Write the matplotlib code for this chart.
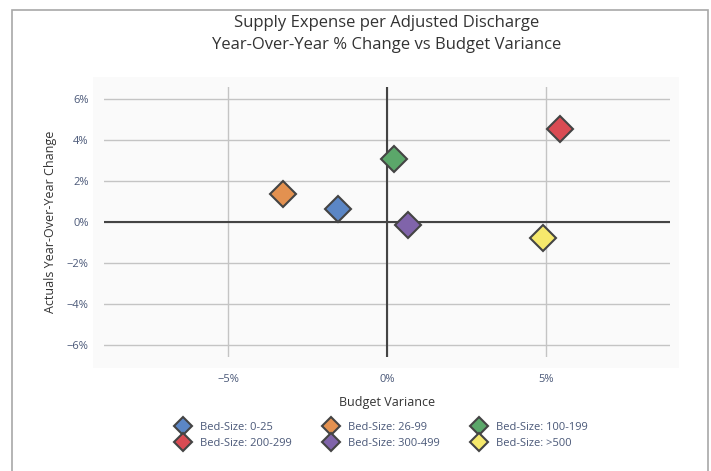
import matplotlib.pyplot as plt
from matplotlib.patches import Rectangle
from matplotlib.ticker import FuncFormatter

plt.rcParams['font.family'] = ['Open Sans', 'DejaVu Sans']

#%% Daten

groups = ['Bed-Size: 0-25', 'Bed-Size: 26-99', 'Bed-Size: 100-199',
          'Bed-Size: 200-299', 'Bed-Size: 300-499', 'Bed-Size: >500']
budget_var = [-1.54, -3.26, 0.21, 5.43, 0.65, 4.91]
yoy_change = [0.62, 1.38, 3.09, 4.57, -0.15, -0.76]
colors = ['#5b86c5', '#e39150', '#5ba76a', '#d94b53', '#8064aa', '#f6e96c']

x_ticks = [-5, 0, 5]
y_ticks = [-6, -4, -2, 0, 2, 4, 6]

#%% Plot

W, H = 711, 471
fig = plt.figure(figsize=(W/100, H/100), dpi=100)

# Rahmen um die ganze Grafik
fig.patches.append(Rectangle((12/W, -0.01), (708-12)/W, (H-10)/H + 0.01,
                             transform=fig.transFigure, fill=False,
                             edgecolor='#a8a8a8', lw=1.2, zorder=-2))
# Hintergrund der Plotflaeche
fig.patches.append(Rectangle((93/W, 1-368/H), (679-93)/W, (368-77)/H,
                             transform=fig.transFigure, facecolor='#fafafa',
                             edgecolor='none', zorder=-1))

ax = fig.add_axes([104/W, 1-357/H, (670-104)/W, (357-87)/H])
ax.set_facecolor('none')
ax.set_zorder(1)

for i in range(len(groups)):
    ax.plot(budget_var[i], yoy_change[i], ls='none', marker='D', markersize=13,
            markerfacecolor=colors[i], markeredgecolor='#444444',
            markeredgewidth=1.5, label=groups[i], zorder=5)

ax.axhline(0, color='#444444', lw=1.5, zorder=3)
ax.axvline(0, color='#444444', lw=1.5, zorder=3)

ax.set_xlim(-8.9, 8.9)
ax.set_ylim(-6.6, 6.6)
ax.set_xticks(x_ticks)
ax.set_yticks(y_ticks)
ax.xaxis.set_major_formatter(FuncFormatter(lambda v, p: f'{v:.0f}%'.replace('-', '\u2212')))
ax.yaxis.set_major_formatter(FuncFormatter(lambda v, p: f'{v:.0f}%'.replace('-', '\u2212')))
ax.grid(True, color='#c4c4c4', lw=1)
ax.set_axisbelow(True)
ax.tick_params(length=0, labelsize=8, labelcolor='#4a5878')
ax.tick_params(axis='x', pad=12)
ax.tick_params(axis='y', pad=11)
for s in ax.spines.values():
    s.set_visible(False)

ax.set_xlabel('Budget Variance', fontsize=9, color='#333333', labelpad=8)
ax.set_ylabel('Actuals Year-Over-Year Change', fontsize=9, color='#333333', labelpad=7)

fig.text(387/W, 1-34/H, 'Supply Expense per Adjusted Discharge\nYear-Over-Year % Change vs Budget Variance',
         ha='center', va='center', fontsize=12, color='#333333', linespacing=1.45)

# Legende zeilenweise
order = [0, 3, 1, 4, 2, 5]
h, l = ax.get_legend_handles_labels()
fig.legend([h[i] for i in order], [l[i] for i in order], ncol=3,
           loc='center left', bbox_to_anchor=(161.5/W, 1-435.5/H), frameon=False,
           fontsize=8, labelcolor='#4a5878', markerscale=0.7,
           columnspacing=2.57, handletextpad=0.53, labelspacing=0.47)

fig.savefig('out.png', dpi=100)
